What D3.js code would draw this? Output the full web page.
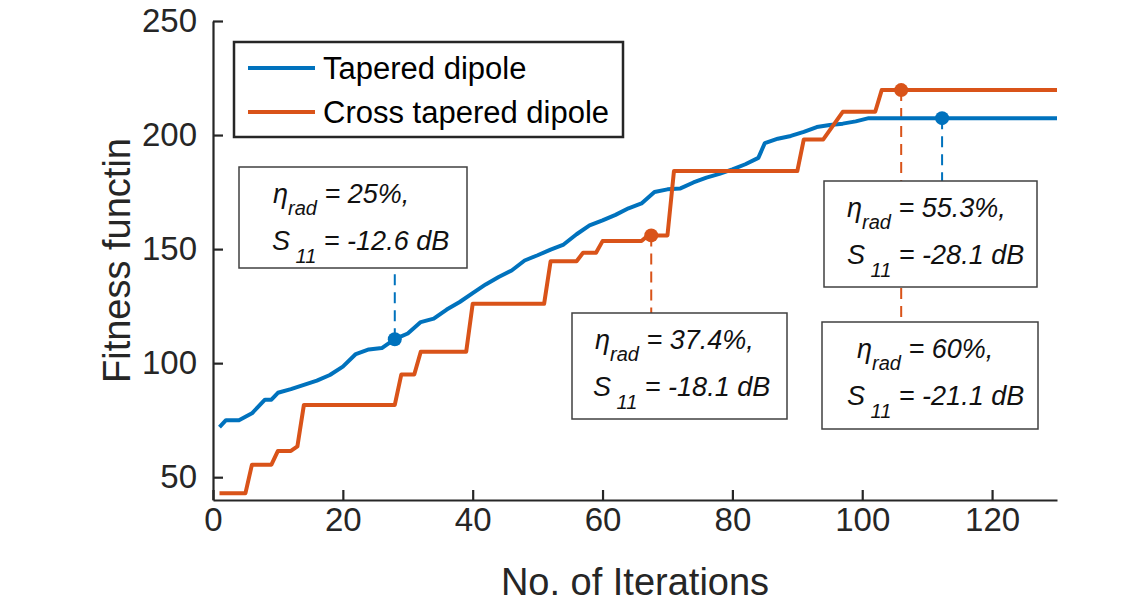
<!DOCTYPE html>
<html>
<head>
<meta charset="utf-8">
<script src="https://cdn.jsdelivr.net/npm/d3@7"></script>
<style>
    body { margin: 0; background: #fff; }
    text { font-family: "Liberation Sans", Arial, Helvetica, sans-serif; }
</style>
</head>
<body>
<div id="chart"></div>
<script>
// Tapered dipole (blue)
const iterTapered = [1,2,4,6,8,9,10,12,14,16,18,20,22,24,26,28,30,32,34,36,38,40,42,44,46,48,50,52,54,56,58,60,62,64,66,68,70,72,74,76,78,80,82,84,85,87,89,91,93,95,97,99,101,130];
const fitTapered = [72,75,75,78,84,84,87,88.6,90.5,92.3,94.8,98.5,104,106,106.6,110.5,113,118,119.5,123.5,126.8,130.7,134.5,137.8,140.6,145,147.3,149.8,152,156.5,160.4,162.6,165,167.9,170,175,176.2,176.6,179.2,181.3,183,185,187.2,190,196.5,198.4,199.6,201.4,203.5,204.4,205,206,207.4,207.4];

// Cross tapered dipole (orange) - step like
const iterCross = [1,5,6,9,10,12,13,14,28,29,31,32,39,40,51,52,56,57,59,60,66,67,70,71,90,91,94,97,102,103,130];
const fitCross = [43,43,55.5,55.5,61.5,61.5,63.5,81.7,81.7,95,95,105,105,126,126,144.7,144.7,148.4,148.4,153.5,153.5,156,156,184.2,184.2,198.1,198.1,210.2,210.2,219.7,219.7];

const seriesNames = ["Tapered dipole", "Cross tapered dipole"];
const xTicks = [0,20,40,60,80,100,120];
const yTicks = [50,100,150,200,250];

// marked points and their text boxes
const markSeries = [0, 1, 0, 1];
const markIter = [28, 67.5, 112.3, 106];
const markFit = [110.5, 156, 207.4, 219.7];
const markEta = ["25%,", "37.4%,", "55.3%,", "60%,"];
const markS11 = ["-12.6 dB", "-18.1 dB", "-28.1 dB", "-21.1 dB"];

const colors = ["#0072BD", "#D95319"];

// layout of the boxes (pixels)
const boxLayout = [
    {x: 239, y: 167, w: 228, h: 101, x1: 273, x2: 272, lineTo: 268},
    {x: 572, y: 313, w: 215, h: 106, x1: 595, x2: 593, lineTo: 313},
    {x: 824, y: 181, w: 213, h: 106, x1: 847, x2: 847, lineTo: 181},
    {x: 822, y: 322, w: 216, h: 107, x1: 857, x2: 847, lineTo: 322}
];

const width = 1140, height = 604;
const margin = {left: 213, top: 21, right: 83, bottom: 104};

let svg = d3.select('#chart')
    .append('svg')
    .attr('width', width)
    .attr('height', height);

let x = d3.scaleLinear().domain([0, 130]).range([margin.left, width - margin.right]);
let y = d3.scaleLinear().domain([40, 250]).range([height - margin.bottom, margin.top]);

let line = d3.line()
    .x(function(d){ return x(d[0]); })
    .y(function(d){ return y(d[1]); });

let seriesData = [
    d3.zip(iterTapered, fitTapered),
    d3.zip(iterCross, fitCross)
];

// dashed drop lines (drawn under the boxes)
svg.selectAll('.drop')
    .data(markIter)
    .enter().append('line')
    .attr('class', 'drop')
    .attr('x1', function(d){ return x(d); })
    .attr('x2', function(d){ return x(d); })
    .attr('y1', function(d, i){ return y(markFit[i]); })
    .attr('y2', function(d, i){ return boxLayout[i].lineTo; })
    .style('stroke', function(d, i){ return colors[markSeries[i]]; })
    .style('stroke-width', 2)
    .style('stroke-dasharray', '11,7');

// series
svg.selectAll('.series')
    .data(seriesData)
    .enter().append('path')
    .attr('class', 'series')
    .attr('d', line)
    .style('fill', 'none')
    .style('stroke', function(d, i){ return colors[i]; })
    .style('stroke-width', 4)
    .style('stroke-linejoin', 'round');

// markers
svg.selectAll('.mark')
    .data(markIter)
    .enter().append('circle')
    .attr('class', 'mark')
    .attr('cx', function(d){ return x(d); })
    .attr('cy', function(d, i){ return y(markFit[i]); })
    .attr('r', 7)
    .style('fill', function(d, i){ return colors[markSeries[i]]; });

// axes
let yAxis = svg.append('g')
    .attr('transform', 'translate(' + margin.left + ',0)')
    .call(d3.axisLeft(y).tickValues(yTicks).tickSize(-10).tickSizeOuter(0).tickPadding(16));

let xAxis = svg.append('g')
    .attr('transform', 'translate(0,' + (height - margin.bottom) + ')')
    .call(d3.axisBottom(x).tickValues(xTicks).tickSize(-10).tickSizeOuter(0).tickPadding(8));

[xAxis, yAxis].forEach(function(ax){
    ax.select('.domain').style('stroke', '#262626').style('stroke-width', 2.2);
    ax.selectAll('.tick line').style('stroke', '#262626').style('stroke-width', 2.2);
    ax.selectAll('.tick text')
        .style('font-size', '33px')
        .style('fill', '#262626')
        .style('font-family', '"Liberation Sans", Arial, sans-serif');
});

// axis labels
svg.append('text')
    .attr('x', x(65))
    .attr('y', 595)
    .attr('text-anchor', 'middle')
    .style('font-size', '38px')
    .style('fill', '#262626')
    .text('No. of Iterations');

svg.append('text')
    .attr('transform', 'translate(130,' + y(145) + ') rotate(-90)')
    .attr('text-anchor', 'middle')
    .style('font-size', '38px')
    .style('fill', '#262626')
    .text('Fitness functin');

// text boxes
let boxes = svg.selectAll('.tbox')
    .data(boxLayout)
    .enter().append('g')
    .attr('class', 'tbox');

boxes.append('rect')
    .attr('x', function(d){ return d.x; })
    .attr('y', function(d){ return d.y; })
    .attr('width', function(d){ return d.w; })
    .attr('height', function(d){ return d.h; })
    .style('fill', '#fff')
    .style('stroke', '#404040')
    .style('stroke-width', 1.5);

let t1 = boxes.append('text')
    .attr('x', function(d){ return d.x1; })
    .attr('y', function(d){ return d.y + 36; })
    .style('font-style', 'italic')
    .style('font-size', '27px')
    .style('fill', '#111');
t1.append('tspan').text('η');
t1.append('tspan').attr('dy', 12).style('font-size', '20px').text('rad');
t1.append('tspan').attr('dy', -12).text(function(d, i){ return ' = ' + markEta[i]; });

let t2 = boxes.append('text')
    .attr('x', function(d){ return d.x2; })
    .attr('y', function(d){ return d.y + 83; })
    .style('font-style', 'italic')
    .style('font-size', '27px')
    .style('fill', '#111');
t2.append('tspan').text('S');
t2.append('tspan').attr('dy', 13).style('font-size', '20px').text(' 11');
t2.append('tspan').attr('dy', -13).text(function(d, i){ return ' = ' + markS11[i]; });

// legend
let legend = svg.append('g');
legend.append('rect')
    .attr('x', 234).attr('y', 42)
    .attr('width', 389).attr('height', 95)
    .style('fill', '#fff')
    .style('stroke', '#262626')
    .style('stroke-width', 2.5);

let items = legend.selectAll('.item')
    .data(seriesNames)
    .enter().append('g')
    .attr('class', 'item')
    .attr('transform', function(d, i){ return 'translate(0,' + (68 + i * 44) + ')'; });

items.append('line')
    .attr('x1', 248).attr('x2', 315)
    .style('stroke', function(d, i){ return colors[i]; })
    .style('stroke-width', 4);

items.append('text')
    .attr('x', 323)
    .attr('y', 11)
    .style('font-size', '31px')
    .style('fill', '#000')
    .text(function(d){ return d; });
</script>
</body>
</html>
